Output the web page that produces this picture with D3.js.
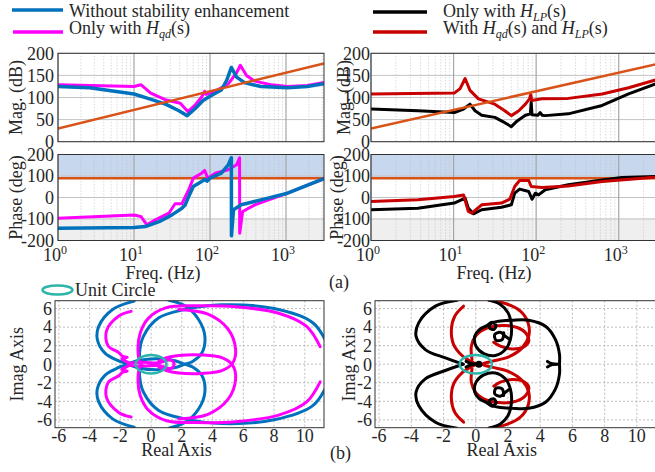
<!DOCTYPE html>
<html>
<head>
<meta charset="utf-8">
<script src="https://cdn.jsdelivr.net/npm/d3@7"></script>
<style>
  body { margin: 0; background: #fff; }
  svg text { font-family: "Liberation Serif", "Times New Roman", Times, serif; fill: #262626; }
</style>
</head>
<body>
<svg id="chart"></svg>
<script>
// canvas
const width = 655;
const height = 472;

// ---- Bode data: [frequency Hz, value] ----
const magBlue = [[1,125],[2.6,122],[10,108],[16,97],[26,85],[39,70],[50,59],[63,74],[81,93],[100,103],[141,117],[166,139],[191,168],[224,146],[288,133],[468,125],[1047,122],[1905,125],[3162,131]];
const magMagenta = [[1,129],[10,125],[12.3,129],[16.6,110],[25.7,95],[40.7,87],[51.3,68],[63.1,82],[77.6,101],[85.1,114],[89.1,107],[117,114],[174,131],[224,156],[251,173],[302,150],[389,137],[631,129],[1047,125],[1905,127],[3162,134]];
const phBlue = [[1,-143],[10,-140],[14.1,-135],[21.4,-112],[31.6,-81],[42.7,-50],[47,-35],[52.5,5],[60.3,51],[77.6,74],[85.1,84],[91.2,76],[100,90],[141,113],[174,152],[191,185],[191.5,-178],[204,-57],[257,-34],[468,-11],[1047,20],[3162,88]];
const phMagenta = [[1,-96],[10,-81],[12.3,-88],[14.8,-127],[19.1,-104],[28.8,-73],[34.7,-29],[42.7,-29],[52.5,36],[60.3,90],[77.6,113],[85.1,126],[93.3,90],[117,113],[174,129],[224,152],[245,185],[246,-166],[269,-65],[389,-34],[1047,20],[3162,88]];

const magRed = [[1,108],[10.2,110],[12,120],[13.8,143],[15.8,116],[20,97],[31.6,85],[41.7,70],[50.1,59],[61.7,70],[74.1,85],[83.2,97],[86.1,107],[88.5,93],[117,97],[245,98],[631,108],[1318,122],[2818,140],[3162,143]];
const magBlack = [[1,74],[3.7,70],[10.2,66],[13.2,74],[15.8,85],[18.2,70],[21.9,60],[31.6,55],[41.7,43],[50.1,34],[58.9,47],[74.1,60],[85.1,63],[87.1,89],[89.1,61],[105,60],[112,66],[118,60],[129,59],[245,63],[631,82],[1318,108],[2818,131],[3162,134]];
const phRed = [[1,-19],[3.7,-11],[10.2,5],[13.2,12],[15.1,-65],[16.6,-73],[21.9,-34],[38,-26],[47.9,-8],[55,51],[63.1,79],[81.3,79],[87.1,51],[117,47],[245,54],[631,74],[3162,96]];
const phBlack = [[1,-57],[3.7,-50],[10.2,-26],[13.8,-3],[15.1,-50],[17.4,-76],[21.9,-57],[38,-45],[50.1,-34],[55,20],[63.1,39],[81.3,28],[89.1,-8],[97.7,20],[107,12],[129,36],[245,59],[631,82],[1096,93],[3162,98]];

const magLimit = [[1,30],[3162,177]];
const phLimit = [[1,90],[3162,90]];

const magTicks = [0, 50, 100, 150, 200];
const phTicks = [-200, -100, 0, 100, 200];
const decades = [0, 1, 2, 3];

// ---- Nyquist data: [real, imag] (upper halves, mirrored below) ----
const nyqBlueArc = [[-1.1,6.8],[-2.5,5.9],[-3.4,4.1],[-3.5,2.7],[-3.0,1.2],[-2.1,0.35],[-1.6,0]];
const nyqBlueOuter = [[11.4,2.4],[10.5,4.5],[8.0,6.0],[4.6,6.4],[2.2,5.9],[0.5,5.0],[-0.5,3.0],[-0.75,1.2],[-0.7,0]];
const nyqBlueInner = [[1.15,6.9],[2.2,6.3],[3.1,4.8],[3.5,3.0],[3.3,1.2],[2.7,0.3],[2.2,0],[1.5,-0.4],[0.3,-0.6],[-0.8,-0.4],[-1.6,0]];
const nyqMagArc = [[-1.3,5.7],[-2.1,5.2],[-2.9,3.6],[-2.8,2.0],[-2.1,1.25],[-1.85,0.85],[-1.55,0.75],[-1.9,0.55],[-1.5,0.2],[-1.4,0]];
const nyqMagOuter = [[11.0,1.9],[10.1,4.1],[8.3,5.5],[5.5,6.2],[2.9,6.3],[1.0,6.1],[-0.15,5.0],[-0.7,3.4],[-0.85,1.6],[-0.7,0.15],[-0.6,0]];
const nyqMagInner = [[1.8,5.9],[3.7,5.4],[5.0,3.8],[5.5,1.6],[5.3,0.1],[4.6,-0.7],[3.3,-1.0],[1.8,-0.95],[1.0,-0.7],[0.5,-0.3]];
const nyqMagCenter = [[-1.5,0.1],[-0.5,0.2],[0.5,0.15],[1.3,0.45],[1.5,0]];

const nyqBlackArc = [[-1.16,6.9],[-2.5,6.26],[-3.54,4.46],[-3.7,3.0],[-3.13,1.58],[-1.88,0.68],[-1.01,0.14],[-0.75,0]];
const nyqBlackMain = [[0.81,6.91],[1.53,6.44],[2.01,5.54],[2.22,4.10],[2.15,2.66],[1.84,1.58],[1.22,0.94],[0.50,1.15],[0.02,1.94],[-0.06,3.02],[0.23,3.74],[0.70,4.17],[1.01,4.53],[1.26,4.17],[1.12,3.74],[0.85,3.92],[0.97,4.39],[1.43,4.64],[2.26,4.75],[3.29,4.75],[4.33,4.10],[4.95,2.66],[5.2,1.04],[5.2,0]];
const nyqBlackCurl = [[1.74,3.38],[1.64,2.66],[1.26,2.59],[1.18,3.2],[1.53,3.45],[1.84,3.02],[2.1,2.7]];
const nyqBlackCenter = [[-0.6,0.3],[-0.25,0.05],[0.2,0]];
const nyqBlackMark = [[4.45,0.3],[4.75,0.05],[5.2,0]];
const nyqRedArc = [[-0.75,6.26],[-1.30,5.18],[-1.51,3.74],[-1.37,2.12],[-0.85,0.94],[-0.23,0.22],[0.02,0]];
const nyqRedMain = [[0.81,6.91],[1.84,6.55],[2.77,5.72],[3.25,4.46],[3.29,3.02],[2.88,1.76],[2.05,0.79],[1.01,0.32],[0.39,0]];
const nyqRedLoop = [[-0.23,0.5],[-0.27,1.94],[0.02,3.09],[0.70,3.88],[1.64,4.17],[2.57,3.96],[3.13,3.31],[3.29,2.48],[2.98,1.87],[2.26,1.65],[1.53,1.94],[1.12,2.37]];

const nyqTicksX = [-6, -4, -2, 0, 2, 4, 6, 8, 10];
const nyqTicksY = [-6, -4, -2, 0, 2, 4, 6];

// colours
const cBlue = "#0072BD", cMag = "#FF00FF", cRed = "#C80000", cBlack = "#000000";
const cOrange = "#D95319", cTeal = "#2CB5AA";
const fs = 18; // font size

const svg = d3.select("#chart")
    .attr("width", width)
    .attr("height", height)
    .attr("font-family", "'Liberation Serif', 'Times New Roman', Times, serif");

let clipId = 0;

// mirror helpers
const mirror = pts => pts.map(d => [d[0], -d[1]]);
const closeSym = pts => pts.concat(mirror(pts).reverse().slice(1));

// ---------- Bode panel ----------
function bodePanel(o) {
    const x = d3.scaleLog().domain([1, Math.pow(10, 3.5)]).range([o.x0, o.x1]);
    const y = d3.scaleLinear().domain([o.ticks[0], o.ticks[o.ticks.length - 1]]).range([o.y1, o.y0]);
    const g = svg.append("g");
    const id = "clip" + (clipId++);
    g.append("clipPath").attr("id", id).append("rect")
        .attr("x", o.x0).attr("y", o.y0).attr("width", o.x1 - o.x0).attr("height", o.y1 - o.y0);

    if (o.shade) {
        g.append("rect").attr("x", o.x0).attr("width", o.x1 - o.x0)
            .attr("y", y(200)).attr("height", y(90) - y(200)).attr("fill", "#C6D7EE");
        g.append("rect").attr("x", o.x0).attr("width", o.x1 - o.x0)
            .attr("y", y(-95)).attr("height", y(-200) - y(-95)).attr("fill", "#EFEFEF");
    }

    // grid
    const minor = [];
    decades.forEach(dd => { for (let k = 2; k <= 9; k++) { const f = k * Math.pow(10, dd); if (f < Math.pow(10, 3.5)) minor.push(f); } });
    g.selectAll(".mn").data(minor).join("line")
        .attr("x1", d => x(d)).attr("x2", d => x(d)).attr("y1", o.y0).attr("y2", o.y1)
        .attr("stroke", "#bdbdbd").attr("stroke-width", 0.8).attr("stroke-dasharray", "1,2");
    g.selectAll(".hz").data(o.ticks).join("line")
        .attr("x1", o.x0).attr("x2", o.x1).attr("y1", d => y(d)).attr("y2", d => y(d))
        .attr("stroke", "#c4c4c4").attr("stroke-width", 1);
    g.selectAll(".mj").data(decades.map(d => Math.pow(10, d))).join("line")
        .attr("x1", d => x(d)).attr("x2", d => x(d)).attr("y1", o.y0).attr("y2", o.y1)
        .attr("stroke", "#a6a6a6").attr("stroke-width", 1.2);

    const line = d3.line().x(d => x(d[0])).y(d => y(d[1]));
    const cg = g.append("g").attr("clip-path", `url(#${id})`);
    o.series.forEach(s => {
        cg.append("path").datum(s.data).attr("fill", "none")
            .attr("stroke", s.color).attr("stroke-width", s.w)
            .attr("stroke-linejoin", "round").attr("d", line);
    });

    // box
    g.append("rect").attr("x", o.x0).attr("y", o.y0).attr("width", o.x1 - o.x0).attr("height", o.y1 - o.y0)
        .attr("fill", "none").attr("stroke", "#333").attr("stroke-width", 1);

    // y tick labels
    g.selectAll(".yl").data(o.ticks).join("text")
        .attr("x", o.x0 - o.pad).attr("y", d => y(d)).attr("dy", "0.35em")
        .attr("text-anchor", "end").attr("font-size", fs).text(d => d);

    g.append("text")
        .attr("transform", `translate(${o.labelX},${(o.y0 + o.y1) / 2}) rotate(-90)`)
        .attr("dy", "0.35em").attr("text-anchor", "middle").attr("font-size", fs).text(o.label);

    if (o.xlabels) {
        decades.forEach(dd => {
            const t = g.append("text").attr("x", x(Math.pow(10, dd)) - 3).attr("y", 261)
                .attr("text-anchor", "middle").attr("font-size", fs);
            t.append("tspan").text("10");
            t.append("tspan").attr("dy", -7).attr("font-size", 12).text(dd);
        });
        g.append("text").attr("x", o.freqX).attr("y", 279).attr("text-anchor", "middle")
            .attr("font-size", fs).text("Freq. (Hz)");
    }
}

// ---------- Nyquist panel ----------
function nyqPanel(o) {
    const x = d3.scaleLinear().domain([-6.25, 11.25]).range([o.x0, o.x1]);
    const y = d3.scaleLinear().domain([-6.85, 6.85]).range([o.y1, o.y0]);
    const g = svg.append("g");
    const id = "clip" + (clipId++);
    g.append("clipPath").attr("id", id).append("rect")
        .attr("x", o.x0).attr("y", o.y0).attr("width", o.x1 - o.x0).attr("height", o.y1 - o.y0);

    g.selectAll(".gx").data(nyqTicksX).join("line")
        .attr("x1", d => x(d)).attr("x2", d => x(d)).attr("y1", o.y0).attr("y2", o.y1)
        .attr("stroke", "#b5b5b5").attr("stroke-width", 0.9).attr("stroke-dasharray", "2,2");
    g.selectAll(".gy").data(nyqTicksY).join("line")
        .attr("x1", o.x0).attr("x2", o.x1).attr("y1", d => y(d)).attr("y2", d => y(d))
        .attr("stroke", "#b5b5b5").attr("stroke-width", 0.9).attr("stroke-dasharray", "2,2");

    const line = d3.line().x(d => x(d[0])).y(d => y(d[1])).curve(d3.curveCatmullRom.alpha(0.5));
    const cg = g.append("g").attr("clip-path", `url(#${id})`);
    o.curves.forEach(c => {
        cg.append("path").datum(c.data).attr("fill", "none")
            .attr("stroke", c.color).attr("stroke-width", 3)
            .attr("stroke-linejoin", "round").attr("stroke-linecap", "round").attr("d", line);
    });
    if (o.dots) {
        o.dots.forEach(dt => {
            cg.append("circle").attr("cx", x(dt[0])).attr("cy", y(dt[1])).attr("r", 3.5).attr("fill", cBlack);
        });
    }
    // unit circle
    cg.append("ellipse").attr("cx", x(0)).attr("cy", y(0))
        .attr("rx", x(1) - x(0)).attr("ry", y(0) - y(1))
        .attr("fill", "none").attr("stroke", cTeal).attr("stroke-width", 2.5);

    g.append("rect").attr("x", o.x0).attr("y", o.y0).attr("width", o.x1 - o.x0).attr("height", o.y1 - o.y0)
        .attr("fill", "none").attr("stroke", "#333").attr("stroke-width", 1);

    g.selectAll(".xl").data(nyqTicksX).join("text")
        .attr("x", d => x(d)).attr("y", 442).attr("text-anchor", "middle").attr("font-size", fs).text(d => d);
    g.selectAll(".yl").data(nyqTicksY).join("text")
        .attr("x", o.x0 - 3).attr("y", d => y(d)).attr("dy", "0.35em")
        .attr("text-anchor", "end").attr("font-size", fs).text(d => d);
    g.append("text").attr("x", (x(-2) + x(4)) / 2 + 10).attr("y", 456).attr("text-anchor", "middle")
        .attr("font-size", fs).text("Real Axis");
    g.append("text")
        .attr("transform", `translate(${o.labelX},${(o.y0 + o.y1) / 2}) rotate(-90)`)
        .attr("dy", "0.35em").attr("text-anchor", "middle").attr("font-size", fs).text("Imag Axis");
}

// top-left
bodePanel({ x0: 58, x1: 324, y0: 53.3, y1: 141.7, ticks: magTicks, pad: 4, label: "Mag. (dB)", labelX: 16,
    series: [{ data: magMagenta, color: cMag, w: 3 }, { data: magBlue, color: cBlue, w: 3.5 }, { data: magLimit, color: cOrange, w: 2.5 }] });
bodePanel({ x0: 58, x1: 324, y0: 154.5, y1: 240.5, ticks: phTicks, pad: 4, label: "Phase (deg)", labelX: 16, shade: true,
    xlabels: true, freqX: 163,
    series: [{ data: phLimit, color: cOrange, w: 2.5 }, { data: phMagenta, color: cMag, w: 3 }, { data: phBlue, color: cBlue, w: 3.5 }] });
// top-right
bodePanel({ x0: 371, x1: 660, y0: 53.3, y1: 141.7, ticks: magTicks, pad: 1, label: "Mag. (dB)", labelX: 344,
    series: [{ data: magBlack, color: cBlack, w: 3 }, { data: magRed, color: cRed, w: 3 }, { data: magLimit, color: cOrange, w: 2.5 }] });
bodePanel({ x0: 371, x1: 660, y0: 154.5, y1: 240.5, ticks: phTicks, pad: 1, label: "Phase (deg)", labelX: 337, shade: true,
    xlabels: true, freqX: 494,
    series: [{ data: phLimit, color: cOrange, w: 2.5 }, { data: phBlack, color: cBlack, w: 3 }, { data: phRed, color: cRed, w: 3 }] });

// Nyquist
nyqPanel({ x0: 55, x1: 324, y0: 300.7, y1: 427.7, labelX: 17,
    curves: [
        { data: closeSym(nyqBlueArc), color: cBlue },
        { data: closeSym(nyqBlueOuter), color: cBlue },
        { data: nyqBlueInner, color: cBlue },
        { data: mirror(nyqBlueInner), color: cBlue },
        { data: closeSym(nyqMagArc), color: cMag },
        { data: closeSym(nyqMagOuter), color: cMag },
        { data: nyqMagInner, color: cMag },
        { data: mirror(nyqMagInner), color: cMag },
        { data: closeSym(nyqMagCenter), color: cMag }
    ] });
nyqPanel({ x0: 375, x1: 657, y0: 300.7, y1: 427.7, labelX: 349,
    curves: [
        { data: closeSym(nyqRedArc), color: cRed },
        { data: closeSym(nyqRedMain), color: cRed },
        { data: nyqRedLoop, color: cRed },
        { data: mirror(nyqRedLoop), color: cRed },
        { data: closeSym(nyqBlackArc), color: cBlack },
        { data: closeSym(nyqBlackMain), color: cBlack },
        { data: nyqBlackCurl, color: cBlack },
        { data: mirror(nyqBlackCurl), color: cBlack },
        { data: closeSym(nyqBlackCenter), color: cBlack },
        { data: closeSym(nyqBlackMark), color: cBlack }
    ],
    dots: [[0.2, 0]] });

// ---------- legends ----------
function hText(t, parts) {
    parts.forEach(p => {
        const s = t.append("tspan").text(p.t);
        if (p.i) s.attr("font-style", "italic");
        if (p.sub) s.attr("font-size", 12).attr("dy", 4);
        if (p.up) s.attr("dy", -4);
    });
}
function legendItem(x1, x2, y, color, tx, ty, parts) {
    svg.append("line").attr("x1", x1).attr("x2", x2).attr("y1", y).attr("y2", y)
        .attr("stroke", color).attr("stroke-width", 3.5);
    const t = svg.append("text").attr("x", tx).attr("y", ty).attr("font-size", fs);
    hText(t, parts);
}
legendItem(12, 63, 10, cBlue, 69, 17, [{ t: "Without stability enhancement" }]);
legendItem(13, 63, 32, cMag, 69, 34, [{ t: "Only with " }, { t: "H", i: true }, { t: "qd", i: true, sub: true }, { t: "(s)", up: true }]);
legendItem(373, 427, 12, cBlack, 443, 17, [{ t: "Only with " }, { t: "H", i: true }, { t: "LP", i: true, sub: true }, { t: "(s)", up: true }]);
legendItem(373, 427, 32, cRed, 443, 34, [{ t: "With " }, { t: "H", i: true }, { t: "qd", i: true, sub: true }, { t: "(s)", up: true },
    { t: " and " }, { t: "H", i: true }, { t: "LP", i: true, sub: true }, { t: "(s)", up: true }]);

// unit circle legend
svg.append("ellipse").attr("cx", 57.5).attr("cy", 290).attr("rx", 15).attr("ry", 4.5)
    .attr("fill", "none").attr("stroke", cTeal).attr("stroke-width", 2.5);
svg.append("text").attr("x", 75).attr("y", 296).attr("font-size", fs).text("Unit Circle");

// panel tags
svg.append("text").attr("x", 329).attr("y", 288).attr("font-size", fs).text("(a)");
svg.append("text").attr("x", 330).attr("y", 459).attr("font-size", fs).text("(b)");
</script>
</body>
</html>
